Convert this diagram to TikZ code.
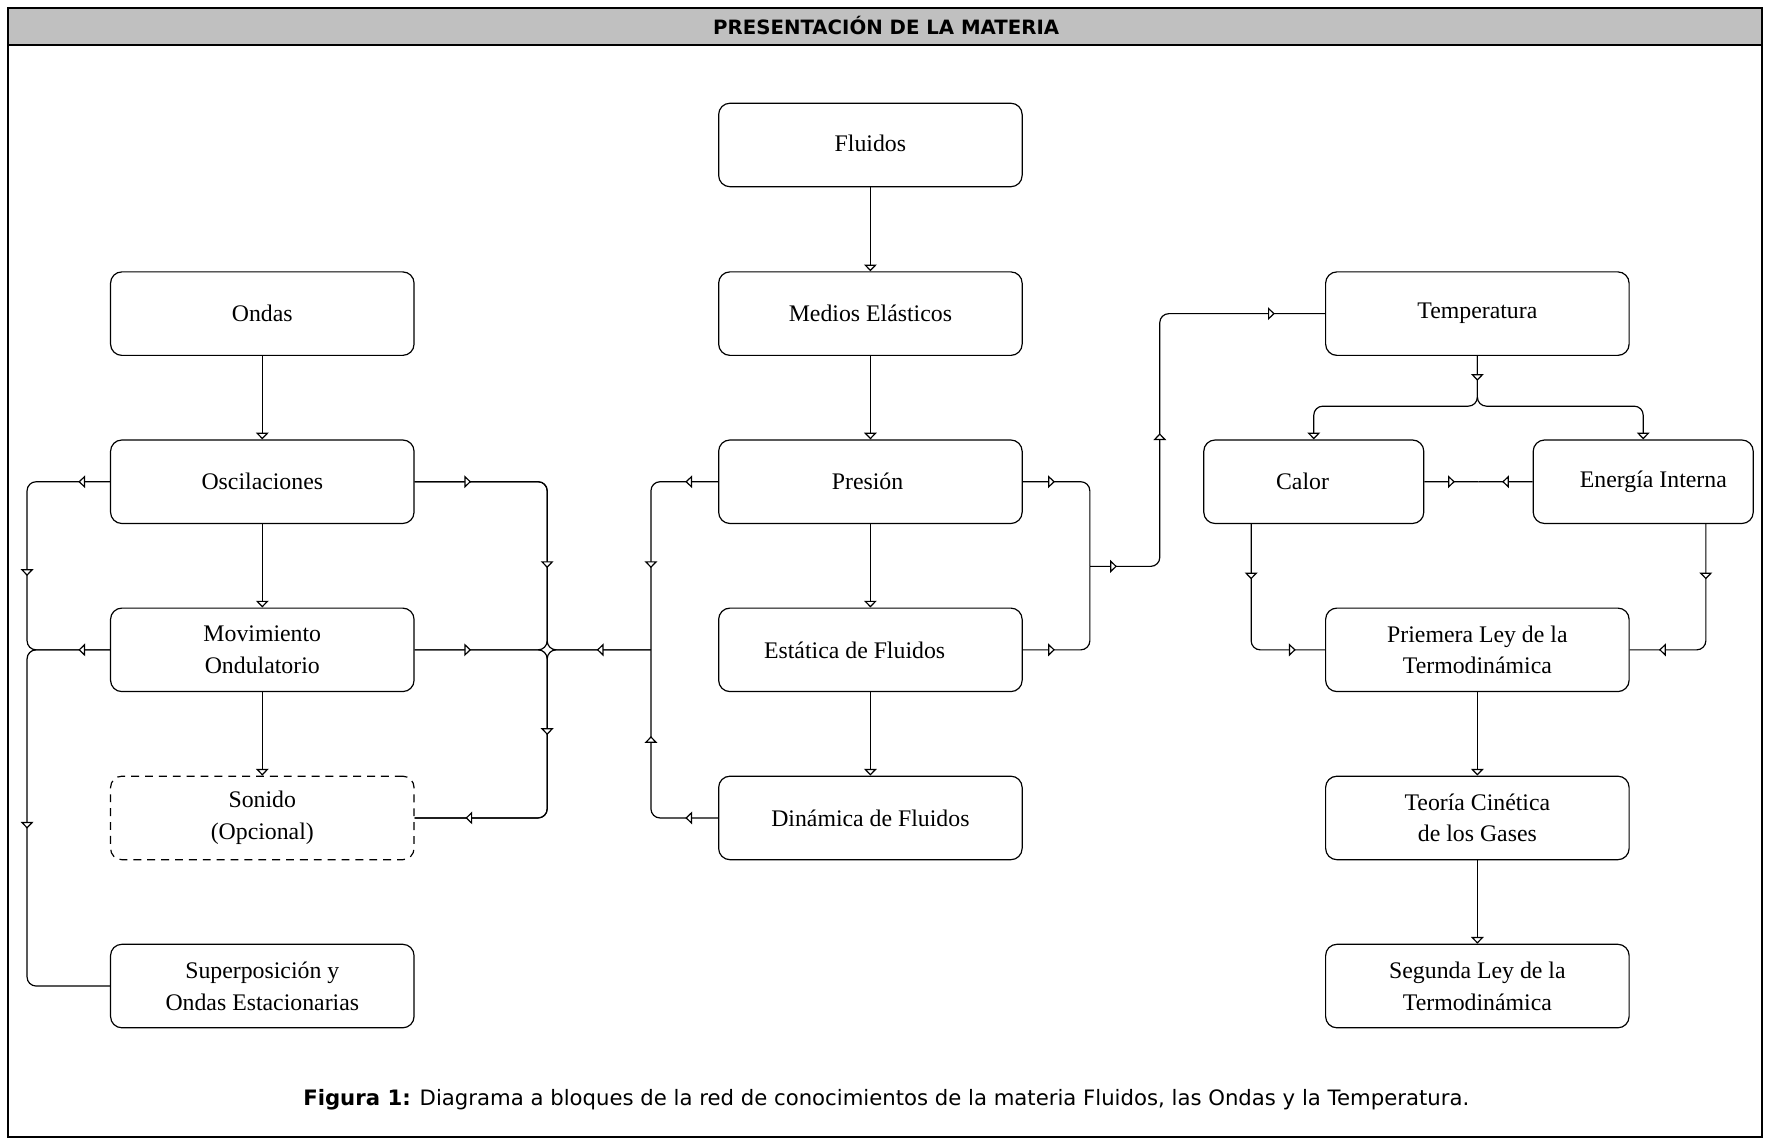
\documentclass[tikz,border=0pt]{standalone}
\usepackage{fontspec}
\setmainfont{Liberation Serif}
\newfontfamily\tahoma{DejaVu Sans}
\usetikzlibrary{arrows.meta,decorations.markings,calc}
\definecolor{barra}{RGB}{192,192,192}

\tikzset{
  caja/.style={draw, line width=.6pt, rounded corners=2mm, fill=white,
    minimum width=53.8mm, minimum height=14.8mm, align=center,
    font=\fontsize{12}{16}\selectfont},
  cajita/.style={caja, minimum width=39mm},
  linea/.style={draw, line width=.6pt, rounded corners=1.6mm},
  >={Triangle[fill=white, length=3.4pt, width=6.4pt]},
  marca/.style={postaction={decorate, decoration={markings,
    mark=at position #1 with {\arrow{>}}}}},
}

\begin{document}
\begin{tikzpicture}[x=0.2mm, y=-0.2mm]
                \useasboundingbox (0,0) rectangle (1568,1010);
                % marco y encabezado
                \draw [line width=1pt, fill=barra] (7,7) rectangle (1562,40);
                \draw [line width=1pt] (7,40) -- (7,1008) -- (1562,1008) -- (1562,40);
                \node (titulo) at (785.5,23) {\tahoma\bfseries\fontsize{9.95}{11}\selectfont PRESENTACIÓN DE LA MATERIA};
                % bloques
                \node [caja] (flu) at (771.5,128.5) {\raisebox{0.7mm}{Fluidos}};
                \node [caja] (med) at (771.5,278) {Medios Elásticos};
                \node [caja] (pre) at (771.5,427) {Presión\hspace*{1mm}};
                \node [caja] (est) at (771.5,576) {Estática de Fluidos\hspace*{5.6mm}};
                \node [caja] (din) at (771.5,725) {Dinámica de Fluidos};
                \node [caja] (ond) at (232.5,278) {Ondas};
                \node [caja] (osc) at (232.5,427) {Oscilaciones};
                \node [caja] (mov) at (232.5,576) {Movimiento\\Ondulatorio};
                \node [caja, dash pattern=on 4pt off 3pt] (son) at (232.5,725) {Sonido\\(Opcional)};
                \node [caja] (sup) at (232.5,874) {Superposición y\\Ondas Estacionarias};
                \node [caja] (tem) at (1309.5,278) {\raisebox{0.9mm}{Temperatura}};
                \node [cajita] (cal) at (1164.5,427) {Calor\hspace*{4mm}};
                \node [cajita] (ene) at (1456.5,427) {\hspace*{3.6mm}Energía Interna};
                \node [caja] (pri) at (1309.5,576) {Priemera Ley de la\\Termodinámica};
                \node [caja] (teo) at (1309.5,725) {Teoría Cinética\\de los Gases};
                \node [caja] (seg) at (1309.5,874) {Segunda Ley de la\\Termodinámica};
                % puntos de union
                \coordinate (bl) at (24,576);
                \coordinate (bm) at (485,576);
                \coordinate (cm) at (577,576);
                \coordinate (dm) at (966,502);
                \coordinate (em) at (1028,502);
                \coordinate (ts) at (1309.5,360);
                \coordinate (ce) at ($(cal.east)!.5!(ene.west)$);
                % flechas verticales
                \draw [linea,->] (flu) -- (med);
                \draw [linea,->] (med) -- (pre);
                \draw [linea,->] (pre) -- (est);
                \draw [linea,->] (est) -- (din);
                \draw [linea,->] (ond) -- (osc);
                \draw [linea,->] (osc) -- (mov);
                \draw [linea,->] (mov) -- (son);
                \draw [linea,->] (pri) -- (teo);
                \draw [linea,->] (teo) -- (seg);
                % lado izquierdo
                \draw [linea, marca=5.6mm, marca=30.7mm] (osc.west) -| (bl) -- (mov.west);
                \draw [linea, marca=5.6mm, marca=45.7mm] (mov.west) -- (bl) |- (sup.west);
                \draw [linea] (osc.east) -| (bm) -- (cm);
                \draw [linea, marca=10mm, marca=38.1mm] (osc.east) -| (bm) -- (mov.east);
                \draw [linea, marca=10mm] (mov.east) -- (bm) |- (son.east);
                \draw [linea, marca=9.6mm, marca=32.8mm, marca=61.3mm] (cm) -- (bm) |- (son.east);
                \draw [linea, marca=5.8mm, marca=26.5mm] (pre.west) -| (cm);
                \draw [linea, marca=5.8mm, marca=25.7mm] (din.west) -| (cm);
                % hacia temperatura
                \draw [linea, marca=5.7mm] (pre.east) -| (dm);
                \draw [linea, marca=5.7mm] (est.east) -| (dm);
                \draw [linea, marca=4.8mm, marca=35.3mm, marca=76.2mm] (dm) -- (em) |- (tem.west);
                % lado derecho
                \draw [linea,->] (tem.south) -- (ts) -| (cal.north);
                \draw [linea,->, marca=4.4mm] (tem.south) -- (ts) -| (ene.north);
                \draw [linea, marca=5.4mm] (cal.east) -- (ce);
                \draw [linea, marca=5.4mm] (ene.west) -- (ce);
                \draw [linea, marca=9.8mm, marca=29.5mm] ([xshift=-11.1mm]cal.south) |- (pri.west);
                \draw [linea, marca=9.8mm, marca=29.9mm] ([xshift=11.1mm]ene.south) |- (pri.east);
                % pie
                \node (pie) at (785.5,975) {\tahoma\fontsize{10.7}{12}\selectfont\textbf{Figura 1:} Diagrama a bloques de la red de conocimientos de la materia Fluidos, las Ondas y la Temperatura.};
            \end{tikzpicture}
\end{document}
